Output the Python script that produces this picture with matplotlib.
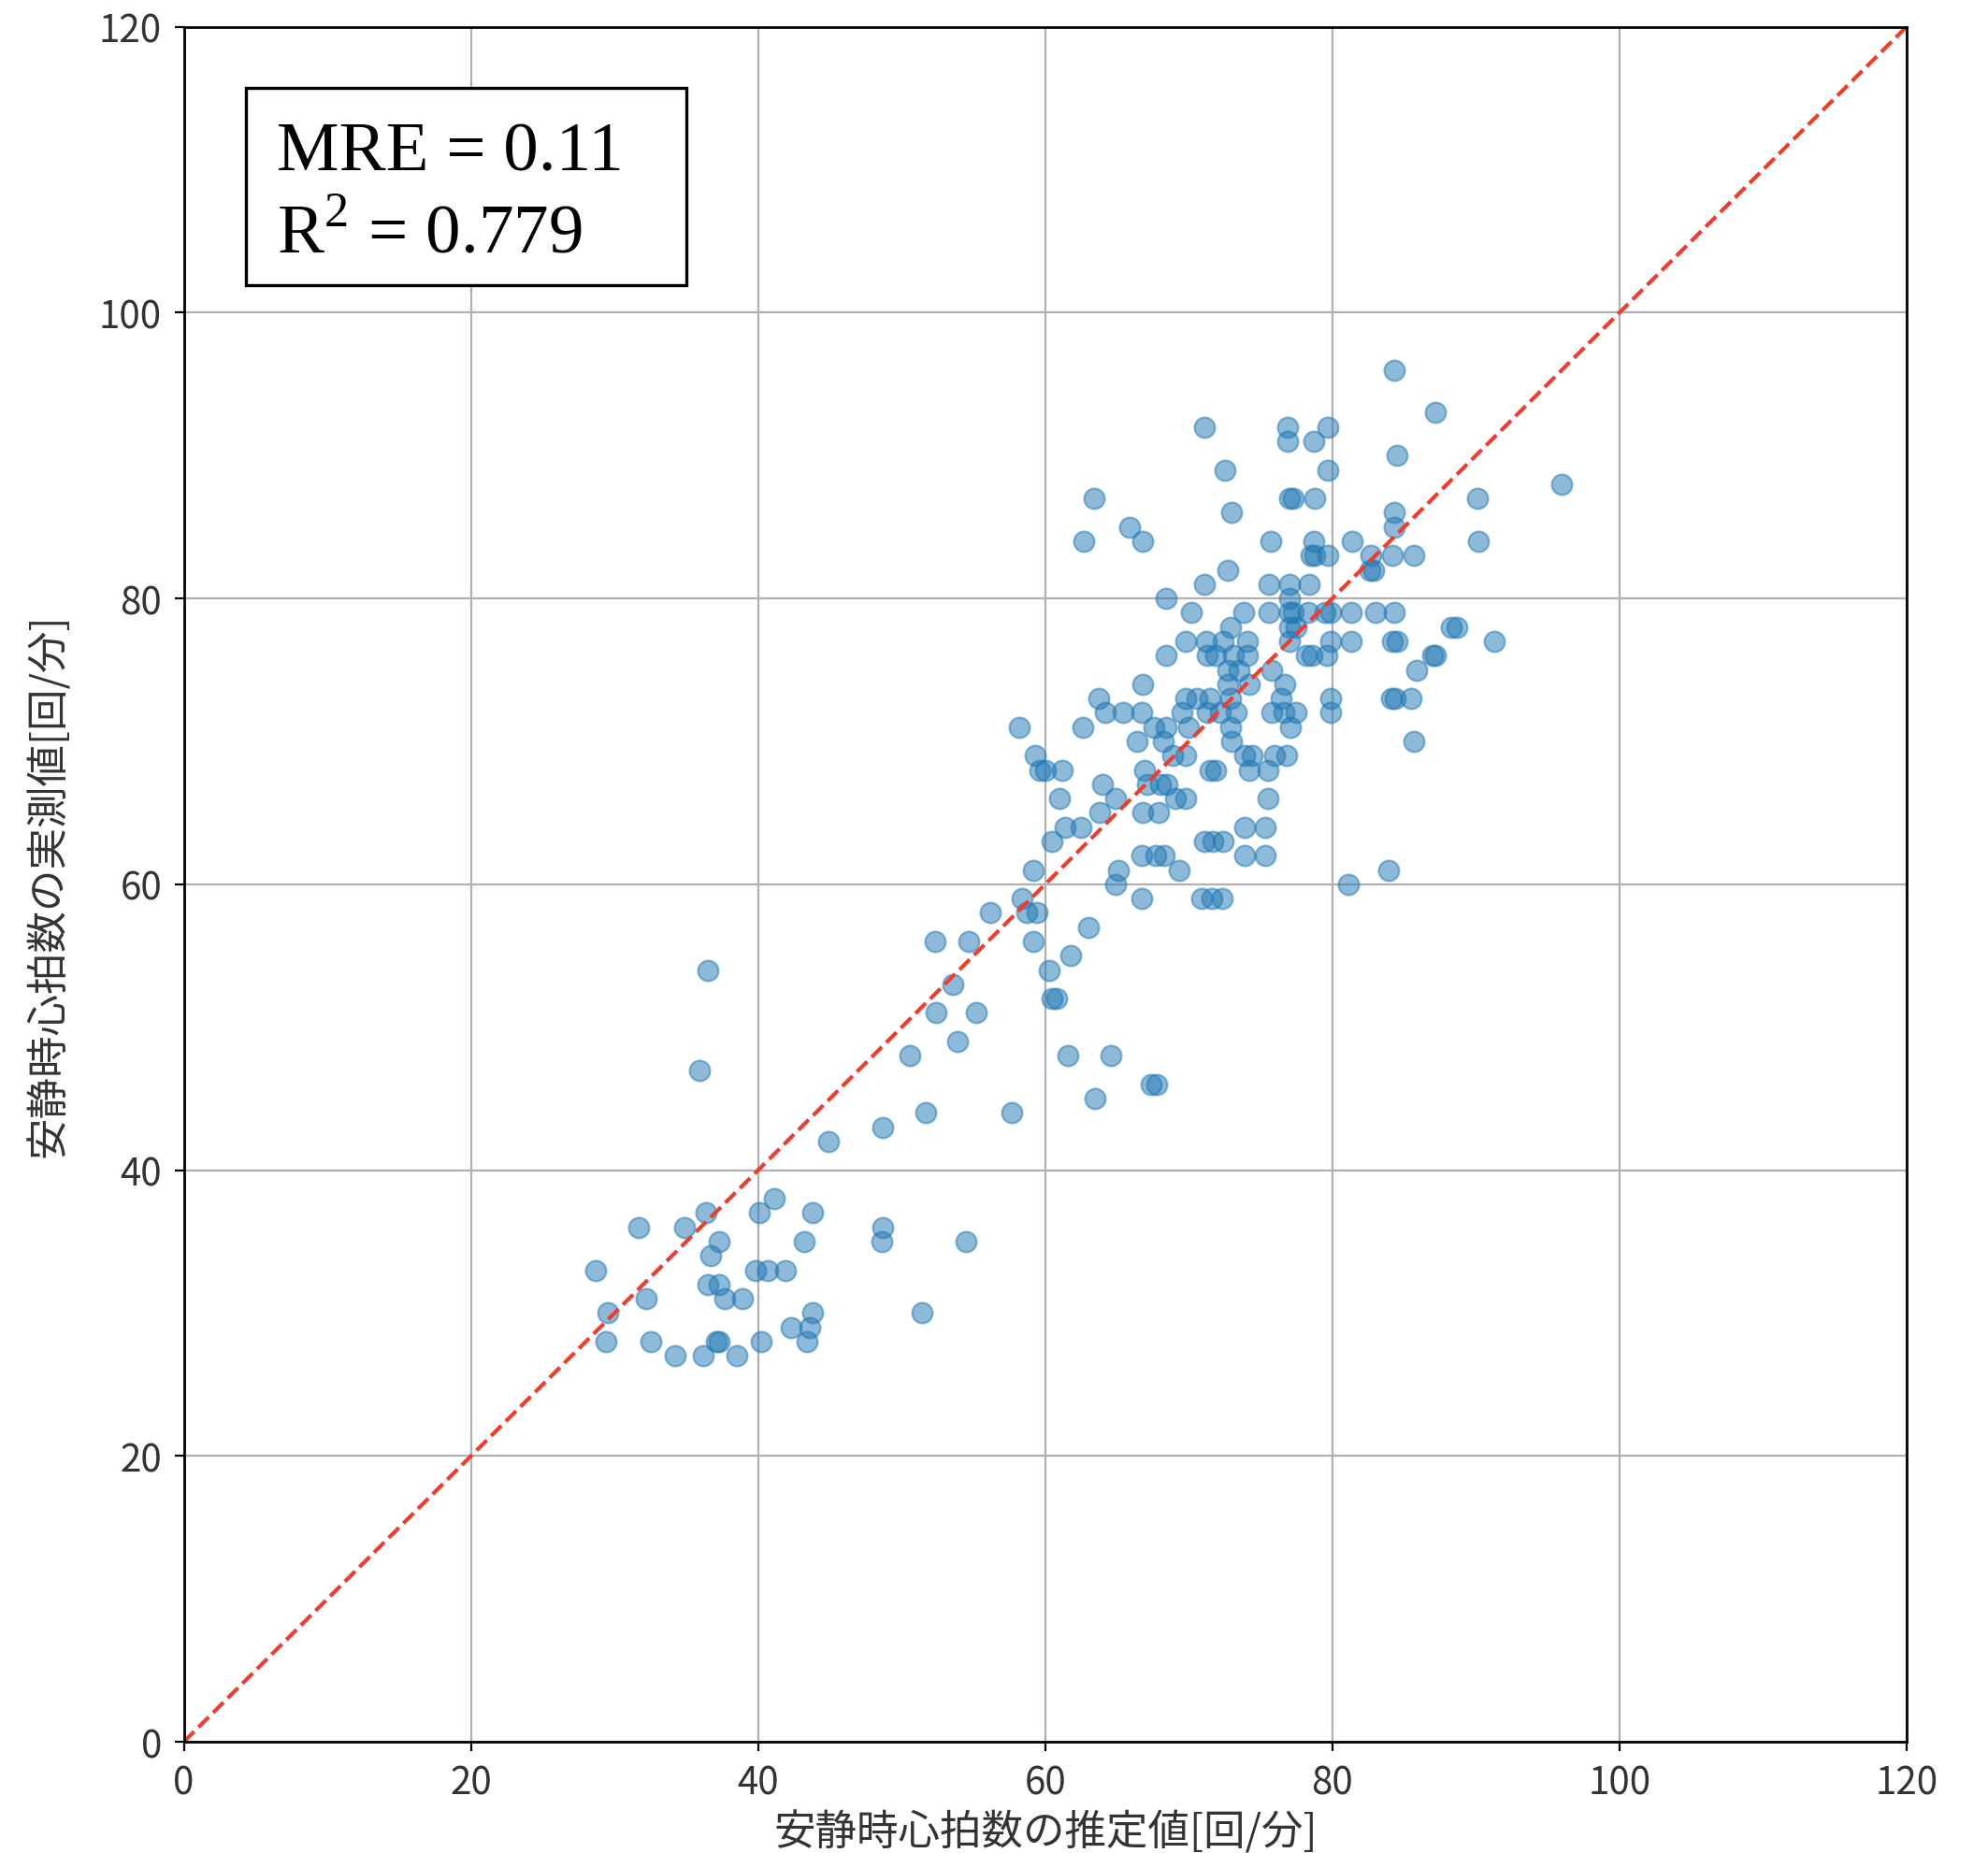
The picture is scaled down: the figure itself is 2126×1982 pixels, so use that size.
import matplotlib.pyplot as plt
from matplotlib.patches import Rectangle

plt.rcParams['font.family'] = ['Noto Sans CJK JP', 'DejaVu Sans']
plt.rcParams['mathtext.fontset'] = 'custom'
plt.rcParams['mathtext.rm'] = 'Liberation Serif'

est = [28.7, 29.5, 29.4, 31.7, 32.2, 32.5, 34.2, 34.9, 36.4, 36.5, 35.9, 36.7,
       37.3, 36.5, 37.3, 37.7, 38.9, 37.1, 37.3, 36.2, 38.5, 40.1, 41.1, 39.8,
       40.7, 41.9, 40.2, 42.3, 43.2, 43.8, 43.8, 43.6, 43.4, 44.9, 48.7, 48.6,
       48.7, 51.4, 54.5, 50.6, 51.7, 52.4, 52.3, 53.6, 53.9, 54.7, 55.2, 56.2,
       57.7, 58.2, 58.4, 58.7, 59.4, 59.2, 59.2, 59.3, 59.6, 60.0, 60.3, 60.5,
       60.8, 60.5, 61.0, 61.2, 61.4, 61.6, 61.8, 62.5, 62.6, 62.7, 63.0, 63.4,
       63.5, 63.7, 63.8, 64.0, 64.2, 64.6, 64.9, 64.9, 65.1, 65.4, 65.9, 66.4,
       66.7, 66.8, 66.8, 66.7, 66.7, 66.8, 66.9, 67.1, 67.4, 67.8, 67.6, 67.7,
       67.9, 68.0, 68.2, 68.3, 68.4, 68.4, 68.4, 68.5, 68.9, 69.1, 69.3, 69.5,
       69.8, 69.8, 69.8, 69.8, 70.0, 70.2, 70.6, 70.9, 71.1, 71.1, 71.1, 71.2,
       71.3, 71.3, 71.5, 71.5, 71.6, 71.7, 71.9, 71.9, 72.2, 72.3, 72.4, 72.4,
       72.5, 72.7, 72.7, 72.7, 72.9, 72.9, 72.9, 73.0, 73.0, 73.1, 73.3, 73.5,
       73.8, 73.9, 73.9, 73.9, 74.1, 74.1, 74.2, 74.2, 74.4, 75.3, 75.3, 75.5,
       75.5, 75.6, 75.6, 75.7, 75.8, 75.8, 76.0, 76.4, 76.6, 76.7, 76.8, 76.9,
       76.9, 77.0, 77.0, 77.0, 77.0, 77.0, 77.0, 77.1, 77.3, 77.3, 77.5, 77.5,
       78.2, 78.3, 78.4, 78.5, 78.6, 78.7, 78.7, 78.8, 78.8, 79.5, 79.6, 79.7,
       79.7, 79.7, 79.9, 79.9, 79.9, 79.9, 81.1, 81.3, 81.3, 81.4, 82.6, 82.7,
       82.9, 83.0, 83.9, 84.1, 84.2, 84.2, 84.3, 84.3, 84.3, 84.3, 84.4, 84.5,
       84.5, 85.5, 85.7, 85.7, 85.9, 87.0, 87.2, 87.2, 88.3, 88.7, 90.1, 90.2,
       91.3, 96.0]
meas = [33, 30, 28, 36, 31, 28, 27, 36, 37, 54, 47, 34,
        35, 32, 32, 31, 31, 28, 28, 27, 27, 37, 38, 33,
        33, 33, 28, 29, 35, 37, 30, 29, 28, 42, 36, 35,
        43, 30, 35, 48, 44, 51, 56, 53, 49, 56, 51, 58,
        44, 71, 59, 58, 58, 56, 61, 69, 68, 68, 54, 52,
        52, 63, 66, 68, 64, 48, 55, 64, 71, 84, 57, 87,
        45, 73, 65, 67, 72, 48, 66, 60, 61, 72, 85, 70,
        72, 74, 84, 59, 62, 65, 68, 67, 46, 46, 71, 62,
        65, 67, 70, 62, 76, 80, 71, 67, 69, 66, 61, 72,
        69, 66, 77, 73, 71, 79, 73, 59, 63, 92, 81, 77,
        76, 72, 73, 68, 59, 63, 76, 68, 72, 59, 63, 77,
        89, 82, 75, 74, 78, 71, 73, 86, 70, 76, 72, 75,
        79, 69, 64, 62, 77, 76, 74, 68, 69, 64, 62, 68,
        66, 81, 79, 84, 72, 75, 69, 73, 72, 74, 69, 92,
        91, 87, 81, 80, 79, 78, 77, 71, 87, 79, 78, 72,
        76, 79, 81, 83, 76, 91, 84, 87, 83, 79, 76, 92,
        89, 83, 77, 73, 72, 79, 60, 77, 79, 84, 82, 83,
        82, 79, 61, 73, 77, 83, 85, 86, 96, 79, 73, 90,
        77, 73, 83, 70, 75, 76, 93, 76, 78, 78, 87, 84,
        77, 88]

diag = [0, 120]
ticks = [0, 20, 40, 60, 80, 100, 120]

fig = plt.figure(figsize=(10.63, 9.915), dpi=200)
ax = fig.add_axes([0.0925, 0.060, 0.8665, 0.925])

ax.scatter(est, meas, s=62, color='#1f77b4', alpha=0.5, linewidths=0.8)
ax.plot(diag, diag, '--', color='#f03c2c', lw=1.5)

ax.set_xlim(0, 120)
ax.set_ylim(0, 120)
ax.set_xticks(ticks)
ax.set_yticks(ticks)
ax.grid(True, color='#b0b0b0', lw=0.8)
ax.set_axisbelow(True)
ax.tick_params(labelsize=14.5, pad=5, labelcolor='#333333')
for sp in ax.spines.values():
    sp.set_linewidth(1.0)

ax.set_xlabel('安静時心拍数の推定値[回/分]', fontsize=16, labelpad=3, color='#333333')
ax.set_ylabel('安静時心拍数の実測値[回/分]', fontsize=16, labelpad=11, color='#333333')

# metrics box
ax.add_patch(Rectangle((0.036, 0.8495), 0.2557, 0.1151, transform=ax.transAxes,
                       fill=True, fc='white', ec='black', lw=1.2, zorder=5))
ax.text(0.054, 0.9166, 'MRE = 0.11', transform=ax.transAxes, va='baseline',
        fontsize=27, family='Liberation Serif', zorder=6)
ax.text(0.054, 0.8686, r'R$^{2}$ = 0.779', transform=ax.transAxes, va='baseline',
        fontsize=27, family='Liberation Serif', zorder=6)

fig.savefig('out.png', dpi=200)
